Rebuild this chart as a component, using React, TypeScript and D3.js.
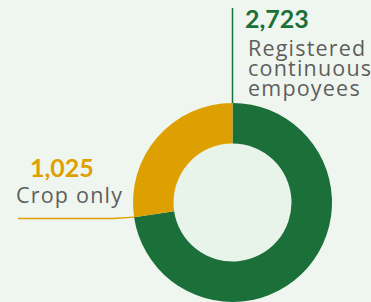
import React from 'react';
import * as d3 from 'd3';

const categories = ['Registered continuous empoyees', 'Crop only'];
const values = [2723, 1025];
const valueLabels = ['2,723', '1,025'];
const colors = ['#1b6f39', '#dea000'];

const W = 371;
const H = 302;

const App = () => {
  const cx = 232.5;
  const cy = 202.5;
  const outer = 99.5;
  const inner = 59;

  const data = categories.map((c, i) => ({ name: c, value: values[i], color: colors[i] }));
  const pie = d3.pie<any>().sort(null).value(d => d.value);
  const arcs = pie(data);
  const arc = d3.arc<any>().innerRadius(inner).outerRadius(outer);

  // point where crop-only slice starts (on outer edge)
  const gold = arcs[1];
  const bx = Math.sin(gold.startAngle) * outer + cx;
  const by = -Math.cos(gold.startAngle) * outer + cy;
  const leader = d3.line()([[18, 218.5], [113, 218.5], [bx, by]]);

  const numFont = 'Lato, sans-serif';
  const font = '"Open Sans", sans-serif';

  return (
    <svg width={W} height={H} style={{ position: 'absolute', left: 0, top: 0 }}>
      <rect width={W} height={H} fill="#eff6ef" />
      <circle cx={cx} cy={cy} r={inner} fill="#e8f3ea" />
      <g transform={`translate(${cx},${cy})`}>
        {arcs.map((a, i) => (
          <path key={i} d={arc(a) || ''} fill={a.data.color} />
        ))}
      </g>
      <line x1={cx} x2={cx} y1={8} y2={cy - outer} stroke={colors[0]} strokeWidth={1.5} />
      <path d={leader || ''} fill="none" stroke={colors[1]} strokeWidth={1.5} />

      <text x={245} y={28} fill={colors[0]} fontFamily={numFont} fontWeight={700} fontSize={25}>
        {valueLabels[0]}
      </text>
      <text fill="#5e5e5e" fontFamily={font} fontSize={21.5} letterSpacing={1.2}>
        <tspan x={248} y={56}>Registered</tspan>
        <tspan x={248} y={76}>continuous</tspan>
        <tspan x={248} y={96}>empoyees</tspan>
      </text>

      <text x={30} y={177} fill={colors[1]} fontFamily={numFont} fontWeight={700} fontSize={25}>
        {valueLabels[1]}
      </text>
      <text x={16} y={203} fill="#5e5e5e" fontFamily={font} fontSize={21.5} letterSpacing={1.2}>
        {categories[1]}
      </text>
    </svg>
  );
};

export default App;
